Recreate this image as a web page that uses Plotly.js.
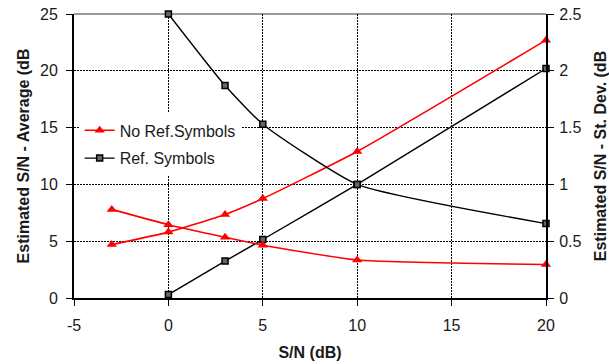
<!DOCTYPE html>
<html>
<head>
<meta charset="utf-8">
<script src="https://cdn.plot.ly/plotly-3.0.1.min.js"></script>
<style>html,body{margin:0;padding:0;background:#fff;}#chart{width:609px;height:364px;}</style>
</head>
<body>
<div id="chart"></div>
<script>
// S/N (dB) of the simulated points
const snNoRef = [-3, 0, 3, 5, 10, 20];
const snRef = [0, 3, 5, 10, 20];

// Estimated S/N - Average (dB), left axis
const avgNoRef = [4.7, 5.8, 7.35, 8.75, 12.9, 22.7];
const avgRef = [0.3, 3.25, 5.15, 10.0, 20.2];

// Estimated S/N - St. Dev. (dB), right axis
const sdNoRef = [0.78, 0.645, 0.535, 0.465, 0.335, 0.295];
const sdRef = [2.5, 1.87, 1.53, 1.0, 0.655];

const nameNoRef = 'No Ref.Symbols';
const nameRef = 'Ref. Symbols';

const xTicks = [-5, 0, 5, 10, 15, 20];
const yTicks = [0, 5, 10, 15, 20, 25];
const y2Ticks = [0, 0.5, 1, 1.5, 2, 2.5];

const FONT = 'Liberation Sans, Arial, sans-serif';
const RED = '#ff0000';
const BLK = '#000000';
const TXT = '#1a1a1a';

const redLine = {color: RED, width: 1.6, shape: 'spline', smoothing: 0.5};
const blkLine = {color: BLK, width: 1.4, shape: 'spline', smoothing: 0.5};
const redMarker = {symbol: 'triangle-up', size: 9, color: RED};
const blkMarker = {symbol: 'square', size: 6, color: '#666', line: {color: BLK, width: 1.5}};

const traces = [
  {x: snNoRef, y: avgNoRef, mode: 'lines+markers', name: nameNoRef, legendgroup: 'a',
   line: redLine, marker: redMarker, yaxis: 'y', cliponaxis: false},
  {x: snRef, y: avgRef, mode: 'lines+markers', name: nameRef, legendgroup: 'b',
   line: blkLine, marker: blkMarker, yaxis: 'y', cliponaxis: false},
  {x: snNoRef, y: sdNoRef, mode: 'lines+markers', name: nameNoRef, legendgroup: 'a', showlegend: false,
   line: redLine, marker: redMarker, yaxis: 'y2', cliponaxis: false},
  {x: snRef, y: sdRef, mode: 'lines+markers', name: nameRef, legendgroup: 'b', showlegend: false,
   line: blkLine, marker: blkMarker, yaxis: 'y2', cliponaxis: false}
];

const titleFont = {family: FONT, size: 16, color: TXT, weight: 'bold'};

const layout = {
  width: 609, height: 364,
  margin: {l: 74, r: 63, t: 14, b: 66, pad: 0},
  paper_bgcolor: '#fff', plot_bgcolor: '#fff',
  font: {family: FONT, size: 16, color: TXT},
  showlegend: true,
  legend: {
    x: 0.012, y: 0.65, xanchor: 'left', yanchor: 'top',
    bgcolor: '#ffffff', borderwidth: 0,
    font: {family: FONT, size: 16, color: TXT},
    traceorder: 'grouped', tracegroupgap: 4,
    itemwidth: 30
  },
  xaxis: {
    range: [-5, 20], tickvals: xTicks, ticktext: xTicks.map(String),
    showline: true, linecolor: BLK, linewidth: 2,
    ticks: 'outside', ticklen: 6, tickwidth: 1, tickcolor: BLK,
    showgrid: true, gridcolor: BLK, gridwidth: 1, griddash: '2px,1px',
    zeroline: false, ticklabelstandoff: 6,
    title: {text: 'S/N (dB)', font: titleFont, standoff: 14},
    fixedrange: true
  },
  yaxis: {
    range: [0, 25], tickvals: yTicks, ticktext: yTicks.map(String),
    showline: true, linecolor: BLK, linewidth: 2,
    ticks: 'outside', ticklen: 6, tickwidth: 1, tickcolor: BLK,
    showgrid: true, gridcolor: BLK, gridwidth: 1, griddash: '2px,1px',
    zeroline: false, ticklabelstandoff: 5,
    title: {text: 'Estimated S/N - Average (dB', font: titleFont, standoff: 6},
    fixedrange: true
  },
  yaxis2: {
    range: [0, 2.5], tickvals: y2Ticks, ticktext: y2Ticks.map(String),
    overlaying: 'y', side: 'right',
    showline: true, linecolor: BLK, linewidth: 2,
    ticks: 'outside', ticklen: 6, tickwidth: 1, tickcolor: BLK,
    showgrid: false, zeroline: false, ticklabelstandoff: 2,
    title: {text: 'Estimated S/N - St. Dev. (dB', font: titleFont, standoff: 15},
    fixedrange: true
  },
  shapes: [
    {type: 'line', xref: 'paper', yref: 'paper', x0: 0, x1: 1, y0: 1, y1: 1,
     line: {color: '#999999', width: 2}, layer: 'below'}
  ]
};

Plotly.newPlot('chart', traces, layout, {displayModeBar: false, staticPlot: true});
</script>
</body>
</html>
